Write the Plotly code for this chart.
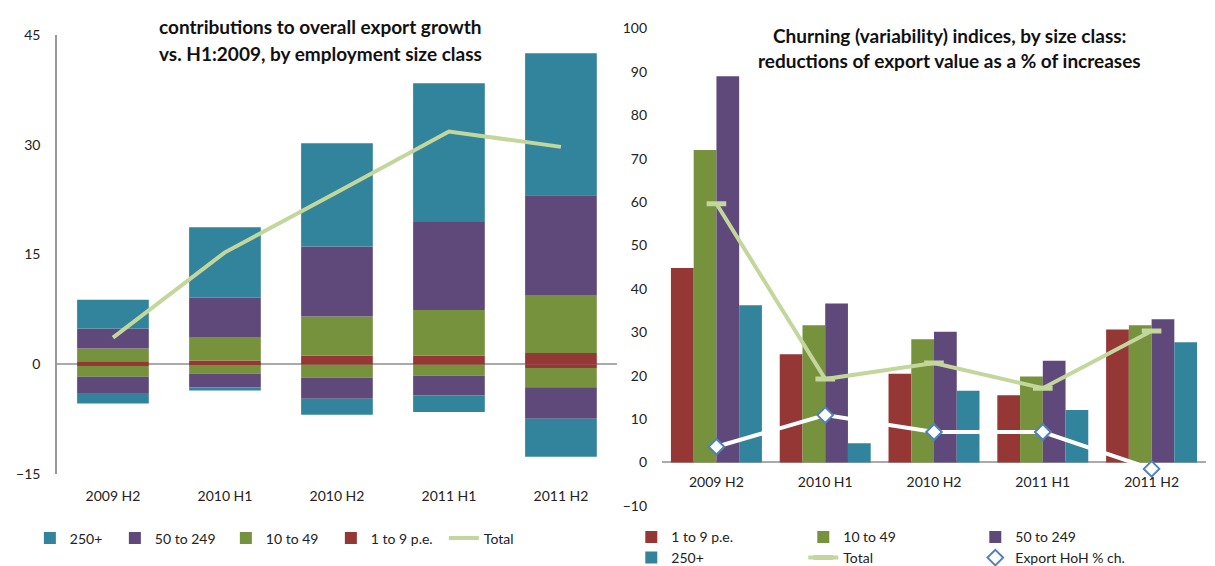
import plotly.graph_objects as go

periods = ['2009 H2', '2010 H1', '2010 H2', '2011 H1', '2011 H2']

# left panel: contributions to export growth vs H1:2009 (positive / negative parts)
small_pos = [0.44, 0.53, 1.2, 1.2, 1.56]
small_neg = [-0.22, -0.13, -0.05, -0.05, -0.49]
mid_pos = [1.74, 3.2, 5.33, 6.22, 7.91]
mid_neg = [-1.47, -1.11, -1.73, -1.51, -2.62]
med_pos = [2.71, 5.38, 9.57, 12.03, 13.63]
med_neg = [-2.22, -1.92, -2.93, -2.66, -4.31]
large_pos = [3.95, 9.6, 14.1, 18.95, 19.4]
large_neg = [-1.42, -0.4, -2.18, -2.27, -5.2]
total_contrib = [3.64, 15.3, 23.5, 31.8, 29.7]

# right panel: churning indices
churn_small = [44.8, 24.9, 20.4, 15.5, 30.6]
churn_mid = [72.0, 31.6, 28.4, 19.8, 31.6]
churn_med = [89.0, 36.6, 30.1, 23.4, 33.0]
churn_large = [36.2, 4.4, 16.5, 12.1, 27.7]
churn_total = [59.6, 19.2, 22.9, 17.1, 30.3]
export_hoh = [3.6, 10.9, 7.0, 7.0, -1.5]

TEAL = '#31849B'
PURPLE = '#5F497A'
GREEN = '#76923C'
RED = '#953735'
LIGHT = '#C3D69B'
BLUE = '#4F81BD'
FONT = 'Lato'
TXT = '#222222'

fig = go.Figure()

left_classes = [
    ('1 to 9 p.e.', small_pos, small_neg, RED, 4, 68),
    ('10 to 49', mid_pos, mid_neg, GREEN, 3, 60),
    ('50 to 249', med_pos, med_neg, PURPLE, 2, 66),
    ('250+', large_pos, large_neg, TEAL, 1, 40),
]
for name, pos, neg, color, rank, lw in left_classes:
    for vals, show in ((pos, True), (neg, False)):
        fig.add_trace(go.Bar(
            x=periods, y=vals, name=name, marker=dict(color=color, line_width=0),
            width=0.64, offsetgroup='left', legendgroup='l' + name, showlegend=show,
            legend='legend', legendrank=rank, legendwidth=lw, xaxis='x', yaxis='y'))

fig.add_trace(go.Scatter(
    x=periods, y=total_contrib, name='Total', mode='lines',
    line=dict(color=LIGHT, width=4), legend='legend', legendrank=5,
    xaxis='x', yaxis='y'))

right_classes = [
    ('1 to 9 p.e.', churn_small, RED, 'legend2'),
    ('10 to 49', churn_mid, GREEN, 'legend2'),
    ('50 to 249', churn_med, PURPLE, 'legend2'),
    ('250+', churn_large, TEAL, 'legend3'),
]
for i, (name, vals, color, leg) in enumerate(right_classes):
    fig.add_trace(go.Bar(
        x=periods, y=vals, name=name, marker=dict(color=color, line_width=0),
        offsetgroup='r%d' % i, legend=leg, xaxis='x2', yaxis='y2'))

fig.add_trace(go.Scatter(
    x=periods, y=churn_total, name='Total', mode='lines+markers',
    line=dict(color=LIGHT, width=4),
    marker=dict(symbol='line-ew', size=14, line=dict(color=LIGHT, width=5)),
    legend='legend3', xaxis='x2', yaxis='y2'))

fig.add_trace(go.Scatter(
    x=periods, y=export_hoh, name='Export HoH % ch.', mode='lines+markers',
    line=dict(color='white', width=4),
    marker=dict(symbol='diamond', size=12, color='white', line=dict(color=BLUE, width=2)),
    legend='legend3', xaxis='x2', yaxis='y2'))

titles = [
    ('contributions to overall export growth', 0.2576, 0.9664),
    ('vs. H1:2009, by employment size class', 0.2576, 0.9187),
    ('Churning (variability) indices, by size class:', 0.7745, 0.9505),
    ('reductions of export value as a % of increases', 0.7745, 0.9064),
]

fig.update_layout(
    width=1215, height=566,
    paper_bgcolor='white', plot_bgcolor='white',
    font=dict(family=FONT, size=14, color=TXT),
    margin=dict(l=0, r=0, t=0, b=0),
    barmode='relative', bargap=0.164, bargroupgap=0,
    xaxis=dict(domain=[0.0403, 0.5012], anchor='y', type='category',
               showline=False, showgrid=False, ticks='', ticklabelstandoff=12,
               automargin=False),
    yaxis=dict(domain=[0.166, 0.952], anchor='x', range=[-15, 45],
               tickvals=[-15, 0, 15, 30, 45], showgrid=False,
               showline=True, linecolor='#999999', linewidth=1.5,
               zeroline=True, zerolinecolor='#AAAAAA', zerolinewidth=1.5,
               ticks='', ticklabelstandoff=12, automargin=False),
    xaxis2=dict(domain=[0.5383, 0.986], anchor='free', position=0.187,
                type='category', showline=False, showgrid=False, ticks='',
                ticklabelstandoff=10, automargin=False),
    yaxis2=dict(domain=[0.1095, 0.9634], anchor='x2', range=[-10, 100],
                dtick=10, showgrid=False, showline=False,
                zeroline=True, zerolinecolor='#AAAAAA', zerolinewidth=1.5,
                ticks='', ticklabelstandoff=14, automargin=False),
    legend=dict(orientation='h', x=0.018, y=0.051, xanchor='left', yanchor='middle',
                traceorder='normal', bgcolor='rgba(0,0,0,0)', font=dict(size=14)),
    legend2=dict(orientation='h', x=0.513, y=0.053, xanchor='left', yanchor='middle',
                 entrywidth=127, traceorder='normal', bgcolor='rgba(0,0,0,0)',
                 font=dict(size=14)),
    legend3=dict(orientation='h', x=0.513, y=0.016, xanchor='left', yanchor='middle',
                 entrywidth=127, traceorder='normal', bgcolor='rgba(0,0,0,0)',
                 font=dict(size=14)),
    annotations=[
        dict(text='<b>%s</b>' % t, x=x, y=y, xref='paper', yref='paper',
             xanchor='center', yanchor='middle', showarrow=False,
             font=dict(size=19, color='#111111'))
        for t, x, y in titles
    ],
)

fig.write_html('out.html')
